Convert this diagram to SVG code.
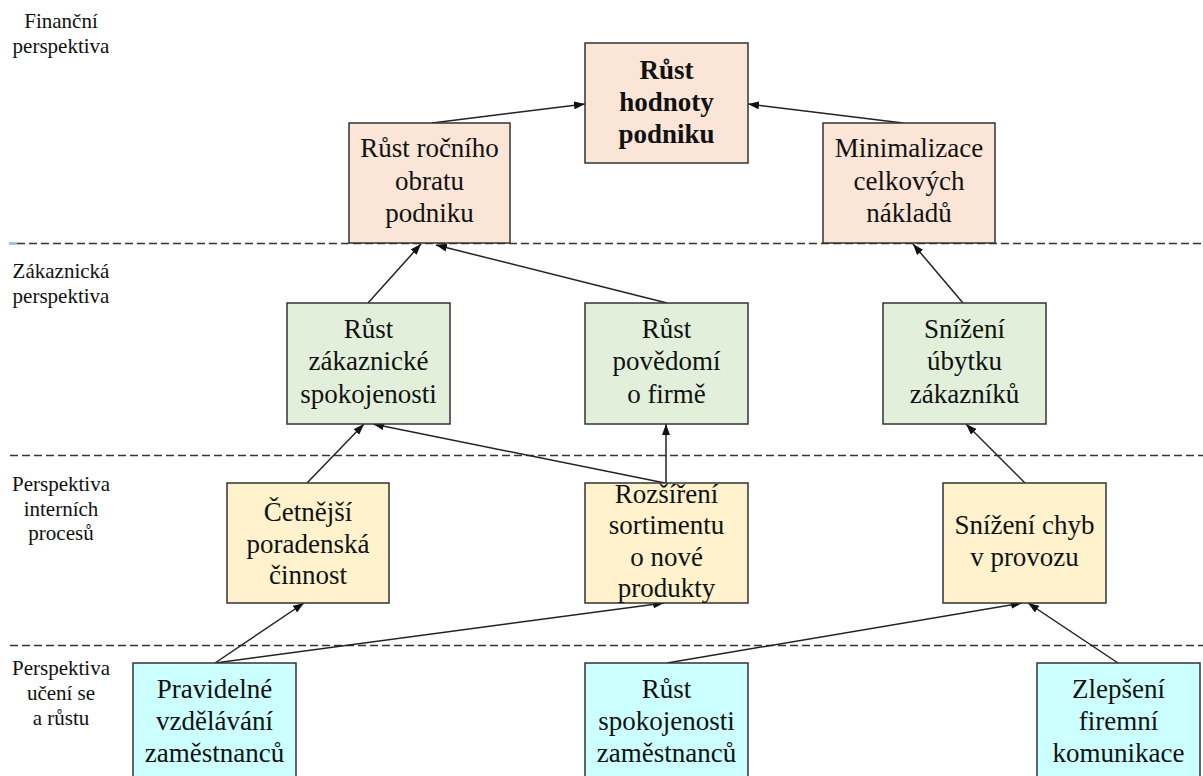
<svg xmlns="http://www.w3.org/2000/svg" width="1203" height="776" viewBox="0 0 1203 776">
<style>
text{fill:#111;text-anchor:middle}
.lbl{font-size:21px}
.t{font-size:27px}
.b{font-weight:bold}
.box{stroke:#333;stroke-width:1.5}
.fin{fill:#FBE5D6}
.zak{fill:#E2EFDA}
.int{fill:#FFF2CC}
.uc{fill:#CCFFFF}
.dash{stroke:#333;stroke-width:1.5;stroke-dasharray:8 4;fill:none}
.c{stroke:#222;stroke-width:1.5;fill:none;marker-end:url(#ah)}
</style>
<defs>
<marker id="ah" markerUnits="userSpaceOnUse" markerWidth="11" markerHeight="8" refX="11" refY="4" orient="auto">
<path d="M0,0 L11,4 L0,8 z" fill="#111"/>
</marker>
</defs>
<rect width="1203" height="776" fill="#fff"/>
<g id="separators">
<rect x="9" y="242" width="8" height="3" fill="#9DC3E6"/>
<line class="dash" x1="17" y1="243.5" x2="1203" y2="243.5"/>
<line class="dash" x1="10" y1="455.5" x2="1203" y2="455.5"/>
<line class="dash" x1="10" y1="645.5" x2="1203" y2="645.5"/>
</g>
<g font-family="'Liberation Serif', 'Times New Roman', Tinos, 'DejaVu Serif', serif">
<g id="labels">
<text class="lbl" x="61" y="28">Finanční</text>
<text class="lbl" x="61" y="53">perspektiva</text>
<text class="lbl" x="61" y="278">Zákaznická</text>
<text class="lbl" x="61" y="303">perspektiva</text>
<text class="lbl" x="61" y="491">Perspektiva</text>
<text class="lbl" x="61" y="516">interních</text>
<text class="lbl" x="61" y="540">procesů</text>
<text class="lbl" x="61" y="675">Perspektiva</text>
<text class="lbl" x="61" y="700">učení se</text>
<text class="lbl" x="61" y="725">a růstu</text>
</g>
<g id="connectors">
<line class="c" x1="432" y1="123" x2="585" y2="104"/>
<line class="c" x1="903" y1="123" x2="748" y2="104"/>
<line class="c" x1="368" y1="303" x2="421" y2="244"/>
<line class="c" x1="667" y1="303" x2="436" y2="245"/>
<line class="c" x1="963" y1="303" x2="913" y2="244"/>
<line class="c" x1="307" y1="483" x2="364" y2="424"/>
<line class="c" x1="665" y1="483" x2="373" y2="424"/>
<line class="c" x1="666" y1="483" x2="666" y2="424"/>
<line class="c" x1="1025" y1="483" x2="966" y2="424"/>
<line class="c" x1="215" y1="663" x2="304" y2="603"/>
<line class="c" x1="215" y1="663" x2="664" y2="603"/>
<line class="c" x1="667" y1="663" x2="1022" y2="603"/>
<line class="c" x1="1118" y1="663" x2="1028" y2="603"/>
</g>
<g id="rust-hodnoty-podniku">
<rect class="box fin" x="585" y="43" width="163" height="120"/>
<text class="t b" x="666.5" y="79">Růst</text>
<text class="t b" x="666.5" y="111">hodnoty</text>
<text class="t b" x="666.5" y="143">podniku</text>
</g>
<g id="rust-rocniho-obratu">
<rect class="box fin" x="349" y="123" width="161" height="120"/>
<text class="t" x="429.5" y="157">Růst ročního</text>
<text class="t" x="429.5" y="190">obratu</text>
<text class="t" x="429.5" y="222">podniku</text>
</g>
<g id="minimalizace-nakladu">
<rect class="box fin" x="823" y="123" width="172" height="120"/>
<text class="t" x="909" y="157">Minimalizace</text>
<text class="t" x="909" y="190">celkových</text>
<text class="t" x="909" y="222">nákladů</text>
</g>
<g id="rust-zakaznicke-spokojenosti">
<rect class="box zak" x="287" y="303" width="163" height="121"/>
<text class="t" x="368.5" y="338">Růst</text>
<text class="t" x="368.5" y="370">zákaznické</text>
<text class="t" x="368.5" y="403">spokojenosti</text>
</g>
<g id="rust-povedomi">
<rect class="box zak" x="585" y="303" width="163" height="121"/>
<text class="t" x="666.5" y="338">Růst</text>
<text class="t" x="666.5" y="370">povědomí</text>
<text class="t" x="666.5" y="403">o firmě</text>
</g>
<g id="snizeni-ubytku">
<rect class="box zak" x="883" y="303" width="163" height="121"/>
<text class="t" x="964.5" y="338">Snížení</text>
<text class="t" x="964.5" y="370">úbytku</text>
<text class="t" x="964.5" y="403">zákazníků</text>
</g>
<g id="cetnejsi-poradenska">
<rect class="box int" x="227" y="483" width="162" height="120"/>
<text class="t" x="308" y="521">Četnější</text>
<text class="t" x="308" y="553">poradenská</text>
<text class="t" x="308" y="584">činnost</text>
</g>
<g id="rozsireni-sortimentu">
<rect class="box int" x="585" y="483" width="163" height="120"/>
<text class="t" x="666.5" y="503">Rozšíření</text>
<text class="t" x="666.5" y="534">sortimentu</text>
<text class="t" x="666.5" y="566">o nové</text>
<text class="t" x="666.5" y="597">produkty</text>
</g>
<g id="snizeni-chyb">
<rect class="box int" x="943" y="483" width="163" height="120"/>
<text class="t" x="1024.5" y="534">Snížení chyb</text>
<text class="t" x="1024.5" y="566">v provozu</text>
</g>
<g id="pravidelne-vzdelavani">
<rect class="box uc" x="133" y="663" width="163" height="122"/>
<text class="t" x="214.5" y="698">Pravidelné</text>
<text class="t" x="214.5" y="730">vzdělávání</text>
<text class="t" x="214.5" y="762">zaměstnanců</text>
</g>
<g id="rust-spokojenosti-zamestnancu">
<rect class="box uc" x="585" y="663" width="163" height="122"/>
<text class="t" x="666.5" y="698">Růst</text>
<text class="t" x="666.5" y="730">spokojenosti</text>
<text class="t" x="666.5" y="762">zaměstnanců</text>
</g>
<g id="zlepseni-komunikace">
<rect class="box uc" x="1037" y="663" width="163" height="122"/>
<text class="t" x="1118.5" y="698">Zlepšení</text>
<text class="t" x="1118.5" y="730">firemní</text>
<text class="t" x="1118.5" y="762">komunikace</text>
</g>
</g>
</svg>
